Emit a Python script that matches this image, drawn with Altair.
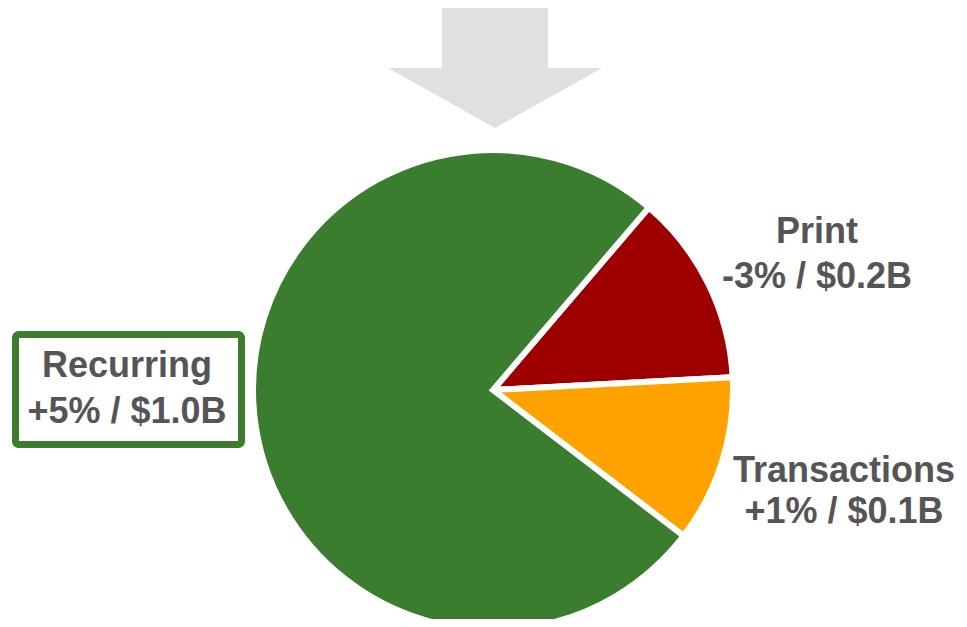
import math
import altair as alt
import pandas as pd

# ---- data ----
segments = ["Print", "Transactions", "Recurring"]
shares = [12.9, 11.25, 75.85]          # share of the pie
changes = ["-3%", "+1%", "+5%"]
amounts = ["$0.2B", "$0.1B", "$1.0B"]
colors = ["#9e0000", "#ffa200", "#3a7d2e"]

df = pd.DataFrame({"segment": segments, "share": shares, "order": [0, 1, 2]})

W, H = 951, 611
CX, CY, R = 485, 382, 240
start = math.radians(40.5)

base_font = dict(font="Liberation Sans", fontWeight="bold", fontSize=36,
                 color="#555555", align="center", baseline="alphabetic")

pie = alt.Chart(df).mark_arc(stroke="white", strokeWidth=6, radius=R).encode(
    theta=alt.Theta("share:Q", stack=True,
                    scale=alt.Scale(range=[start, start + 2 * math.pi])),
    order=alt.Order("order:Q"),
    color=alt.Color("segment:N", scale=alt.Scale(domain=segments, range=colors), legend=None),
    x=alt.value(CX), y=alt.value(CY),
)

one = alt.Data(values=[{"a": 1}])

box = alt.Chart(one).mark_rect(fill="white", stroke="#3a7d2e", strokeWidth=7,
                               cornerRadius=3).encode(
    x=alt.value(7.5), x2=alt.value(233.5), y=alt.value(326.5), y2=alt.value(436.5))

arrow_path = "M-0.495,-0.570 L0.495,-0.570 L0.495,0 L1,0 L0,0.561 L-1,0 L-0.495,0 Z"
arrow = alt.Chart(one).mark_point(shape=arrow_path, filled=True, fill="#e0e0e0",
                                  opacity=1, strokeWidth=0, size=45796).encode(
    x=alt.value(487), y=alt.value(60))

label_pos = {"Print": (809, 235, 280), "Transactions": (836, 474, 515), "Recurring": (119, 369, 415)}
texts = []
for seg, ch, am in zip(segments, changes, amounts):
    x, y1, y2 = label_pos[seg]
    texts.append(alt.Chart(one).mark_text(text=seg, **base_font).encode(
        x=alt.value(x), y=alt.value(y1)))
    texts.append(alt.Chart(one).mark_text(text=f"{ch} / {am}", **base_font).encode(
        x=alt.value(x), y=alt.value(y2)))

chart = alt.layer(box, pie, arrow, *texts).properties(
    width=W, height=H, autosize=alt.AutoSizeParams(type="none"), padding=0
).configure_view(stroke=None)

chart.save("out.html", embed_options={"renderer": "svg", "actions": False})
